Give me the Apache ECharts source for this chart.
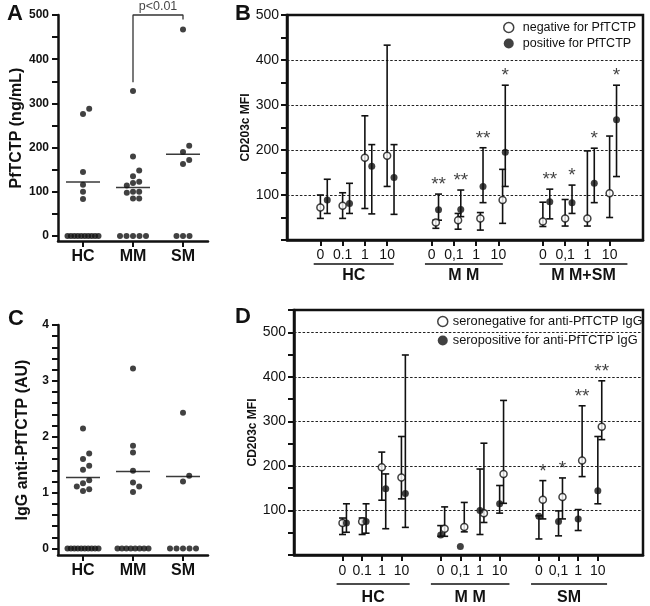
<!DOCTYPE html>
<html><head><meta charset="utf-8">
<script src="https://cdn.jsdelivr.net/npm/echarts@6/dist/echarts.min.js"></script>
<style>html,body{margin:0;padding:0;background:#fff}#c{width:650px;height:606px}</style>
</head><body><div id="c"></div><script>
// ---------------- DATA ----------------
const groupsAC = ['HC', 'MM', 'SM'];
// Panel A: PfTCTP (ng/mL)
const pfHC = [288, 276, 145, 116, 100, 84, 0, 0, 0, 0, 0, 0, 0, 0, 0, 0];
const pfMM = [328, 180, 148, 135, 123, 120, 114, 100, 100, 98, 85, 85, 0, 0, 0, 0, 0];
const pfSM = [467, 204, 190, 172, 163, 0, 0, 0];
const pfMedian = [122, 110, 185];
const pfTickLabels = [0, 100, 200, 300, 400, 500];
const bracketA = [[1, 348], [1, 500], [2, 500], [2, 490]];
const pText = 'p<0.01';
// Panel C: IgG anti-PfTCTP (AU)
const igHC = [2.15, 1.70, 1.60, 1.48, 1.41, 1.22, 1.17, 1.11, 1.06, 1.03, 0, 0, 0, 0, 0, 0, 0, 0, 0, 0];
const igMM = [3.22, 1.84, 1.72, 1.39, 1.18, 1.11, 1.01, 0, 0, 0, 0, 0, 0, 0, 0];
const igSM = [2.43, 1.30, 1.20, 0, 0, 0, 0, 0];
const igMedian = [1.27, 1.38, 1.29];
const igTickLabels = [0, 1, 2, 3, 4];
// Panel B: CD203c MFI by PfTCTP status
const doseLabels = ['0', '0.1', '1', '10', '0', '0,1', '1', '10', '0', '0,1', '1', '10'];
const groupsB = ['HC', 'M M', 'M M+SM'];
const negB     = [72, 76, 183, 187, 39, 44, 48, 89, 41, 48, 48, 104];
const negBLow  = [48, 48, 70, 119, 26, 24, 22, 37, 30, 31, 31, 50];
const negBHigh = [100, 105, 276, 433, 44, 59, 61, 157, 84, 90, 198, 231];
const posB     = [89, 81, 164, 139, 67, 68, 119, 195, 85, 83, 126, 267];
const posBLow  = [59, 59, 58, 57, 44, 52, 83, 119, 47, 59, 83, 141];
const posBHigh = [135, 126, 212, 212, 102, 111, 205, 344, 113, 122, 204, 344];
const starsB   = ['', '', '', '', '**', '**', '**', '*', '**', '*', '*', '*'];
const gridB = [100, 200, 300, 400];
// Panel D: CD203c MFI by anti-PfTCTP IgG status
const groupsD = ['HC', 'M M', 'SM'];
const negD     = [72, 75, 197, 174, 59, 63, 94, 182, 124, 130, 212, 288];
const negDLow  = [46, 46, 123, 126, 42, 52, 73, 116, 81, 81, 176, 259];
const negDHigh = [83, 83, 231, 266, 108, 118, 251, 347, 167, 173, 335, 391];
const posD     = [72, 75, 149, 138, 45, 19, 100, 115, 87, 75, 81, 144];
const posDLow  = [51, 49, 59, 62, 42, null, 46, 94, 36, 43, 55, 115];
const posDHigh = [115, 115, 182, 449, 66, null, 193, 156, 88, 99, 102, 266];
const starsD   = ['', '', '', '', '', '', '', '', '*', '*', '**', '**'];
const gridD = [100, 200, 300, 400, 500];

// ---------------- LAYOUT ----------------
const FONT = '"Liberation Sans", Arial, Helvetica, sans-serif';
const INK = '#111';
const slotOf = i => Math.floor(i / 4) * 5 + (i % 4);
const slots = doseLabels.map((d, i) => slotOf(i));
const slotLabel = {}; slots.forEach((s, i) => slotLabel[s] = doseLabels[i]);
const offB = { neg: [0, 0.19, 0], pos: [0.31, 0.31, 0.31] };
const offD = { neg: [0, 0.2, 0.2], pos: [0.2, 0, 0] };
const spanB = [[-0.3, 3.3], [4.7, 8.2], [9.85, 13.8]];
const spanD = [[-0.3, 3.42], [4.5, 8.5], [9.6, 13.47]];

function swarm(vals, c, pxU, pxC) {
  const d = 6.2, out = [], placed = [];
  const rest = vals.filter(v => v !== 0).sort((a, b) => a - b);
  const zeros = vals.filter(v => v === 0);
  rest.forEach(v => {
    const y = v * pxU;
    for (let k = 0; k < 40; k++) {
      const off = (k === 0 ? 0 : (k % 2 ? 1 : -1) * Math.ceil(k / 2)) * d;
      if (placed.every(p => Math.hypot(p[0] - off, p[1] - y) >= d - 0.01)) {
        placed.push([off, y]); out.push([c + off / pxC, v]); break;
      }
    }
  });
  const n = zeros.length, sp = n > 1 ? Math.min(6.5, 31 / (n - 1)) : 0;
  zeros.forEach((v, i) => out.push([c + (i - (n - 1) / 2) * sp / pxC, 0]));
  return out;
}
const pxUA = 226 / 511.3, pxUC = 230 / 4.116;
const ptsA = [].concat(swarm(pfHC, 0, pxUA, 50), swarm(pfMM, 1, pxUA, 50), swarm(pfSM, 2, pxUA, 50));
const ptsC = [].concat(swarm(igHC, 0, pxUC, 50), swarm(igMM, 1, pxUC, 50), swarm(igSM, 2, pxUC, 50));

function medianRender(params, api) {
  const c = api.value(0), m = api.value(1);
  const a = api.coord([c - 0.34, m]), b = api.coord([c + 0.34, m]);
  return { type: 'line', shape: { x1: a[0], y1: a[1], x2: b[0], y2: b[1] }, style: { stroke: '#3a3a3a', lineWidth: 1.5 } };
}
function errRender(params, api) {
  const x = api.value(0), lo = api.value(1), hi = api.value(2);
  const a = api.coord([x, lo]), b = api.coord([x, hi]), w = 3.5;
  const st = { stroke: INK, lineWidth: 1.6 };
  return { type: 'group', children: [
    { type: 'line', shape: { x1: a[0], y1: a[1], x2: b[0], y2: b[1] }, style: st },
    { type: 'line', shape: { x1: a[0] - w, y1: a[1], x2: a[0] + w, y2: a[1] }, style: st },
    { type: 'line', shape: { x1: b[0] - w, y1: b[1], x2: b[0] + w, y2: b[1] }, style: st }
  ] };
}
function groupRender(names, spans, dyLine, dyText) {
  return function (params, api) {
    const i = api.value(0), s = spans[i];
    const a = api.coord([s[0], 0]), b = api.coord([s[1], 0]), y = a[1];
    return { type: 'group', children: [
      { type: 'line', shape: { x1: a[0], y1: y + dyLine, x2: b[0], y2: y + dyLine }, style: { stroke: INK, lineWidth: 1.4 } },
      { type: 'text', style: { text: names[i], x: (a[0] + b[0]) / 2, y: y + dyText, align: 'center', verticalAlign: 'middle',
        textAlign: 'center', textVerticalAlign: 'middle', fontSize: 16, fontWeight: 'bold', fontFamily: FONT, fill: INK } }
    ] };
  };
}
function bars(vals, lo, hi, off) {
  const out = [];
  vals.forEach((v, i) => { if (lo[i] != null) out.push([slots[i] + off[Math.floor(i / 4)], lo[i], hi[i]]); });
  return out;
}
function pts(vals, off) { return vals.map((v, i) => [slots[i] + off[Math.floor(i / 4)], v]); }
function starPts(stars, vals, hi, off) {
  const out = [];
  stars.forEach((s, i) => { if (s) out.push({ value: [slots[i] + off[Math.floor(i / 4)], hi[i] != null ? hi[i] : vals[i]], s: s }); });
  return out;
}
const range = (a, b, s) => { const r = []; for (let v = a; v <= b + 1e-9; v += s) r.push(+v.toFixed(4)); return r; };

const axLine = { onZero: false, lineStyle: { color: INK, width: 2.5 } };
const tickSt = { color: INK, width: 2 };
function catX(grid) {
  return { gridIndex: grid, type: 'value', min: -0.5, max: 2.5, axisLine: axLine,
    axisTick: { customValues: [0, 1, 2], length: 6, lineStyle: tickSt },
    axisLabel: { customValues: [0, 1, 2], formatter: v => groupsAC[Math.round(v)], fontSize: 16, fontWeight: 'bold', color: INK, fontFamily: FONT, margin: 8 },
    splitLine: { show: false } };
}
function doseX(grid, min, max, margin) {
  return { gridIndex: grid, type: 'value', min: min, max: max, axisLine: axLine,
    axisTick: { customValues: slots, length: 6, lineStyle: tickSt },
    axisLabel: { customValues: slots, formatter: v => slotLabel[Math.round(v)], fontSize: 14, color: INK, fontFamily: FONT, margin: margin },
    splitLine: { show: false } };
}
function mfiY(grid, max, gap) {
  return { gridIndex: grid, type: 'value', min: 0, max: max, interval: 50, axisLine: { show: true, onZero: false, lineStyle: { color: INK, width: 2.5 } },
    axisTick: { show: true, length: 6, lineStyle: tickSt },
    axisLabel: { formatter: v => (v > 0 && v % 100 === 0 && v <= 500) ? String(v) : '', fontSize: 14, color: INK, fontFamily: FONT, margin: 8 },
    splitLine: { show: false },
    name: 'CD203c MFI', nameLocation: 'middle', nameGap: gap, nameMoveOverlap: false,
    nameTextStyle: { fontSize: 12, fontWeight: 'bold', color: INK, fontFamily: FONT } };
}
const gridLineStyle = { type: [2.5, 1.8], color: '#222', width: 1.2 };
const openStyle = { color: '#fff', borderColor: INK, borderWidth: 1.5 };
const starLabel = { show: true, formatter: p => p.data.s, position: 'inside', offset: [0, -9], fontSize: 19, color: INK, fontFamily: FONT };
const letter = (t, l, tp) => ({ text: t, left: l, top: tp, padding: 0, textStyle: { fontSize: 22, fontWeight: 'bold', color: INK, fontFamily: FONT } });

const option = {
  animation: false,
  backgroundColor: '#fff',
  title: [letter('A', 7, 3), letter('B', 235, 3), letter('C', 8, 308), letter('D', 235, 306)],
  legend: [
    { orient: 'vertical', left: 503, top: 21, padding: 0, itemWidth: 10, itemHeight: 10, itemGap: 3, selectedMode: false,
      textStyle: { fontSize: 12.5, color: INK, fontFamily: FONT, padding: [0, 0, 0, 4] },
      data: [{ name: 'negative for PfTCTP', icon: 'circle', itemStyle: openStyle },
             { name: 'positive for PfTCTP', icon: 'circle', itemStyle: { color: INK } }] },
    { orient: 'vertical', left: 437, top: 315, padding: 0, itemWidth: 10, itemHeight: 10, itemGap: 6, selectedMode: false,
      textStyle: { fontSize: 12.8, color: INK, fontFamily: FONT },
      data: [{ name: 'seronegative for anti-PfTCTP IgG', icon: 'circle', itemStyle: openStyle },
             { name: 'seropositive for anti-PfTCTP IgG', icon: 'circle', itemStyle: { color: INK } }] }
  ],
  grid: [
    { left: 58, top: 15, width: 150, height: 226 },
    { left: 287, top: 15, width: 356, height: 225, show: true, borderColor: INK, borderWidth: 2.5, backgroundColor: 'transparent' },
    { left: 58, top: 325, width: 150, height: 230 },
    { left: 294, top: 310, width: 349, height: 245, show: true, borderColor: INK, borderWidth: 2.5, backgroundColor: 'transparent' }
  ],
  xAxis: [catX(0), doseX(1, -1.5, 14.5, 8), catX(2), doseX(3, -2.47, 15.3, 9)],
  yAxis: [
    { gridIndex: 0, type: 'value', min: -11.3, max: 500, axisLine: { show: true, onZero: false, lineStyle: { color: INK, width: 2.5 } },
      axisTick: { show: true, customValues: range(0, 500, 50), length: 6, lineStyle: tickSt },
      axisLabel: { customValues: pfTickLabels, fontSize: 12, fontWeight: 'bold', color: INK, fontFamily: FONT, margin: 9 },
      splitLine: { show: false },
      name: 'PfTCTP (ng/mL)', nameLocation: 'middle', nameGap: 33, nameMoveOverlap: false,
      nameTextStyle: { fontSize: 16, fontWeight: 'bold', color: INK, fontFamily: FONT } },
    mfiY(1, 500, 35),
    { gridIndex: 2, type: 'value', min: -0.116, max: 4, axisLine: { show: true, onZero: false, lineStyle: { color: INK, width: 2.5 } },
      axisTick: { show: true, customValues: range(0, 4, 0.2), length: 6, lineStyle: tickSt },
      axisLabel: { customValues: igTickLabels, formatter: v => String(Math.round(v)), fontSize: 12, fontWeight: 'bold', color: INK, fontFamily: FONT, margin: 9 },
      splitLine: { show: false },
      name: 'IgG anti-PfTCTP (AU)', nameLocation: 'middle', nameGap: 27, nameMoveOverlap: false,
      nameTextStyle: { fontSize: 16, fontWeight: 'bold', color: INK, fontFamily: FONT } },
    mfiY(3, 550, 35)
  ],
  series: [
    // Panel A
    { type: 'scatter', xAxisIndex: 0, yAxisIndex: 0, symbolSize: 6, itemStyle: { color: INK }, data: ptsA, z: 5 },
    { type: 'custom', xAxisIndex: 0, yAxisIndex: 0, renderItem: medianRender, data: pfMedian.map((m, i) => [i, m]), z: 4 },
    { type: 'line', xAxisIndex: 0, yAxisIndex: 0, data: bracketA, symbol: 'none', clip: false, lineStyle: { color: '#333', width: 1.3 } },
    { type: 'scatter', xAxisIndex: 0, yAxisIndex: 0, symbolSize: 1, itemStyle: { color: 'rgba(0,0,0,0)' }, data: [[1.5, 500]],
      label: { show: true, formatter: pText, position: 'top', distance: 1, fontSize: 12.5, color: INK, fontFamily: FONT } },
    // Panel C
    { type: 'scatter', xAxisIndex: 2, yAxisIndex: 2, symbolSize: 6, itemStyle: { color: INK }, data: ptsC, z: 5 },
    { type: 'custom', xAxisIndex: 2, yAxisIndex: 2, renderItem: medianRender, data: igMedian.map((m, i) => [i, m]), z: 4 },
    // Panel B
    { type: 'custom', xAxisIndex: 1, yAxisIndex: 1, renderItem: errRender, encode: { x: 0, y: [1, 2] }, data: bars(negB, negBLow, negBHigh, offB.neg), z: 8,
      markLine: { silent: true, symbol: ['none', 'none'], label: { show: false }, lineStyle: gridLineStyle, data: gridB.map(v => ({ yAxis: v })) } },
    { type: 'custom', xAxisIndex: 1, yAxisIndex: 1, renderItem: errRender, encode: { x: 0, y: [1, 2] }, data: bars(posB, posBLow, posBHigh, offB.pos), z: 8 },
    { type: 'scatter', name: 'negative for PfTCTP', xAxisIndex: 1, yAxisIndex: 1, symbol: 'circle', symbolSize: 7, itemStyle: openStyle, data: pts(negB, offB.neg), z: 10 },
    { type: 'scatter', name: 'positive for PfTCTP', xAxisIndex: 1, yAxisIndex: 1, symbol: 'circle', symbolSize: 7, itemStyle: { color: INK }, data: pts(posB, offB.pos), z: 10 },
    { type: 'scatter', xAxisIndex: 1, yAxisIndex: 1, symbolSize: 1, itemStyle: { color: 'rgba(0,0,0,0)' }, data: starPts(starsB, posB, posBHigh, offB.pos), label: starLabel, z: 11 },
    { type: 'custom', xAxisIndex: 1, yAxisIndex: 1, renderItem: groupRender(groupsB, spanB, 24, 36), clip: false, data: [[0, 0], [1, 0], [2, 0]] },
    // Panel D
    { type: 'custom', xAxisIndex: 3, yAxisIndex: 3, renderItem: errRender, encode: { x: 0, y: [1, 2] }, data: bars(negD, negDLow, negDHigh, offD.neg), z: 8,
      markLine: { silent: true, symbol: ['none', 'none'], label: { show: false }, lineStyle: gridLineStyle, data: gridD.map(v => ({ yAxis: v })) } },
    { type: 'custom', xAxisIndex: 3, yAxisIndex: 3, renderItem: errRender, encode: { x: 0, y: [1, 2] }, data: bars(posD, posDLow, posDHigh, offD.pos), z: 8 },
    { type: 'scatter', name: 'seronegative for anti-PfTCTP IgG', xAxisIndex: 3, yAxisIndex: 3, symbol: 'circle', symbolSize: 7, itemStyle: openStyle, data: pts(negD, offD.neg), z: 10 },
    { type: 'scatter', name: 'seropositive for anti-PfTCTP IgG', xAxisIndex: 3, yAxisIndex: 3, symbol: 'circle', symbolSize: 7, itemStyle: { color: INK }, data: pts(posD, offD.pos), z: 10 },
    { type: 'scatter', xAxisIndex: 3, yAxisIndex: 3, symbolSize: 1, itemStyle: { color: 'rgba(0,0,0,0)' }, data: starPts(starsD, negD, negDHigh, offD.neg), label: starLabel, z: 11 },
    { type: 'custom', xAxisIndex: 3, yAxisIndex: 3, renderItem: groupRender(groupsD, spanD, 29, 43), clip: false, data: [[0, 0], [1, 0], [2, 0]] }
  ]
};
const chart = echarts.init(document.getElementById('c'));
chart.setOption(option);
</script></body></html>
